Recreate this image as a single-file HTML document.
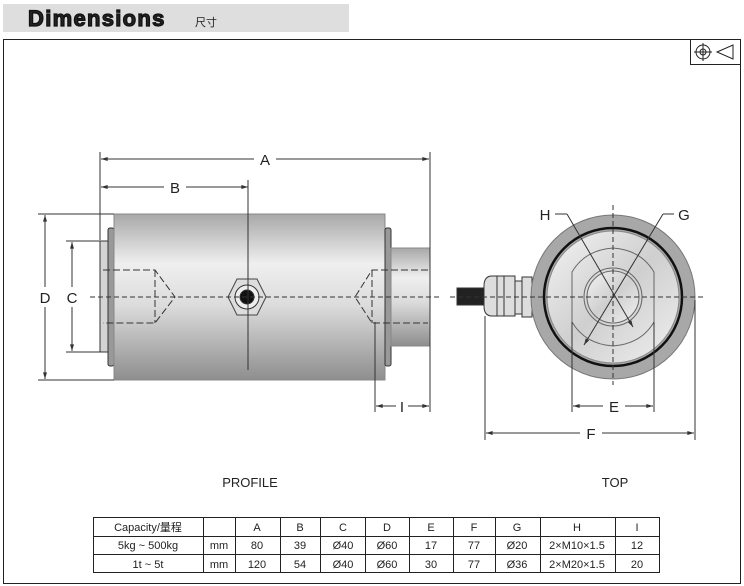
<!DOCTYPE html>
<html><head><meta charset="utf-8"><style>
html,body{margin:0;padding:0;background:#fff;}
svg{display:block;}
text{font-family:"Liberation Sans","Noto Sans CJK SC",sans-serif;fill:#222;}
</style></head><body>
<svg width="744" height="586" viewBox="0 0 744 586" xmlns="http://www.w3.org/2000/svg">
<defs>
<linearGradient id="bg" x1="0" y1="0" x2="0" y2="1">
<stop offset="0" stop-color="#a8a8a8"/><stop offset="0.3" stop-color="#efefef"/><stop offset="0.55" stop-color="#dcdcdc"/><stop offset="1" stop-color="#8e8e8e"/></linearGradient>
<linearGradient id="rg" x1="0" y1="0" x2="1" y2="1">
<stop offset="0" stop-color="#f4f4f4"/><stop offset="0.5" stop-color="#cfcfcf"/><stop offset="1" stop-color="#f0f0f0"/></linearGradient>
<marker id="ar" viewBox="0 0 10 6" refX="10" refY="3" markerWidth="8" markerHeight="4" orient="auto-start-reverse"><path d="M0,0L10,3L0,6z" fill="#333"/></marker>
</defs>
<rect x="3" y="4" width="346" height="28" fill="#dedede"/>
<text x="28" y="26" font-size="22" font-weight="900" fill="#111" stroke="#111" stroke-width="1.2" letter-spacing="1.3">Dimensions</text>
<text x="195" y="26" font-size="11">尺寸</text>
<rect x="3.5" y="39.5" width="737" height="544" fill="none" stroke="#222" stroke-width="1"/>
<rect x="690.5" y="39.5" width="50" height="25" fill="none" stroke="#222"/>
<circle cx="703" cy="52" r="7" fill="none" stroke="#222"/><circle cx="703" cy="52" r="3" fill="none" stroke="#222"/>
<line x1="694" y1="52" x2="712" y2="52" stroke="#222"/><line x1="703" y1="43" x2="703" y2="61" stroke="#222"/>
<path d="M717 52L733 45V59Z" fill="none" stroke="#222"/>

<g stroke="#333" fill="none" stroke-width="1">
<rect x="100" y="241" width="8" height="111" fill="#d4d4d4"/>
<rect x="108" y="228" width="6" height="138" rx="2" fill="#999"/>
<rect x="114" y="214" width="271" height="166" fill="url(#bg)" stroke="#888"/>
<rect x="385" y="228" width="6" height="138" rx="2" fill="#999"/>
<rect x="391" y="248" width="39" height="98" fill="url(#bg)" stroke="#888"/>
<path d="M103 270H155L175 297L155 323H103M155 270V323" stroke-dasharray="7,3"/>
<path d="M428 270H372L355 297L372 323H428M372 270V323" stroke-dasharray="7,3"/>
<polygon points="228,297 237,279 257,279 266,297 257,315 237,315" fill="#ddd" stroke="#444"/>
<circle cx="247" cy="297" r="12" fill="#eee"/><circle cx="247" cy="297" r="7" fill="#111"/>
<line x1="90" y1="297" x2="442" y2="297" stroke-dasharray="5,3"/>
<line x1="100" y1="152" x2="100" y2="240"/><line x1="430" y1="152" x2="430" y2="412"/>
<line x1="101" y1="159" x2="254" y2="159" marker-start="url(#ar)"/><line x1="276" y1="159" x2="429" y2="159" marker-end="url(#ar)"/>
<line x1="101" y1="187" x2="164" y2="187" marker-start="url(#ar)"/><line x1="186" y1="187" x2="248" y2="187" marker-end="url(#ar)"/>
<line x1="248" y1="180" x2="248" y2="370"/>
<line x1="38" y1="214" x2="114" y2="214"/><line x1="38" y1="380" x2="114" y2="380"/>
<line x1="45" y1="215" x2="45" y2="287" marker-start="url(#ar)"/><line x1="45" y1="307" x2="45" y2="379" marker-end="url(#ar)"/>
<line x1="66" y1="241" x2="100" y2="241"/><line x1="66" y1="352" x2="100" y2="352"/>
<line x1="72" y1="242" x2="72" y2="287" marker-start="url(#ar)"/><line x1="72" y1="307" x2="72" y2="351" marker-end="url(#ar)"/>
<line x1="375" y1="322" x2="375" y2="412"/>
<line x1="376" y1="406" x2="396" y2="406" marker-start="url(#ar)"/><line x1="408" y1="406" x2="429" y2="406" marker-end="url(#ar)"/>
<rect x="457" y="288" width="28" height="17" fill="#222"/>
<path d="M505 276H492Q484 276 484 286V306Q484 316 492 316H505Z" fill="#ddd"/>
<rect x="497" y="276" width="18" height="40" fill="#ddd"/><line x1="504" y1="276" x2="504" y2="316"/>
<rect x="515" y="281" width="7" height="33" fill="#ddd"/>
<rect x="522" y="277" width="10" height="40" fill="#ddd"/>
<circle cx="613" cy="297" r="82" fill="#a8a8a8" stroke="#777"/>
<circle cx="613" cy="297" r="69" fill="none" stroke="#111" stroke-width="2.5"/>
<circle cx="613" cy="297" r="66" fill="url(#rg)" stroke="#888"/>
<path d="M572 272Q585 250 613 248Q641 250 654 272V322Q641 344 613 346Q585 344 572 322Z" fill="none" stroke="#666"/>
<circle cx="613" cy="297" r="29" fill="none" stroke="#666"/>
<circle cx="613" cy="297" r="26" fill="url(#rg)" stroke="#666"/>
<line x1="450" y1="297" x2="705" y2="297" stroke-dasharray="5,3"/>
<line x1="613" y1="205" x2="613" y2="385" stroke-dasharray="5,3"/>
<line x1="555" y1="214" x2="567" y2="214"/><line x1="567" y1="214" x2="633" y2="327" marker-end="url(#ar)"/>
<line x1="663" y1="214" x2="674" y2="214"/><line x1="663" y1="214" x2="584" y2="345" marker-end="url(#ar)"/>
<line x1="572" y1="322" x2="572" y2="412"/><line x1="654" y1="322" x2="654" y2="412"/>
<line x1="573" y1="406" x2="603" y2="406" marker-start="url(#ar)"/><line x1="625" y1="406" x2="653" y2="406" marker-end="url(#ar)"/>
<line x1="485" y1="316" x2="485" y2="440"/><line x1="695" y1="300" x2="695" y2="440"/>
<line x1="486" y1="433" x2="580" y2="433" marker-start="url(#ar)"/><line x1="602" y1="433" x2="694" y2="433" marker-end="url(#ar)"/>
</g>
<g font-size="15">
<text x="265" y="165" text-anchor="middle">A</text>
<text x="175" y="193" text-anchor="middle">B</text>
<text x="45" y="303" text-anchor="middle">D</text>
<text x="72" y="303" text-anchor="middle">C</text>
<text x="402" y="412" text-anchor="middle">I</text>
<text x="545" y="220" text-anchor="middle">H</text>
<text x="684" y="220" text-anchor="middle">G</text>
<text x="614" y="412" text-anchor="middle">E</text>
<text x="591" y="439" text-anchor="middle">F</text>
</g>
<text x="250" y="487" font-size="13" text-anchor="middle">PROFILE</text>
<text x="615" y="487" font-size="13" text-anchor="middle">TOP</text>
<g stroke="#222" stroke-width="1">
<rect x="93.5" y="517.5" width="566" height="55" fill="none"/>
<line x1="93" y1="536.5" x2="660" y2="536.5"/><line x1="93" y1="554.5" x2="660" y2="554.5"/>
<line x1="203.5" y1="517" x2="203.5" y2="573"/><line x1="235.5" y1="517" x2="235.5" y2="573"/>
<line x1="280.5" y1="517" x2="280.5" y2="573"/><line x1="320.5" y1="517" x2="320.5" y2="573"/>
<line x1="365.5" y1="517" x2="365.5" y2="573"/><line x1="409.5" y1="517" x2="409.5" y2="573"/>
<line x1="453.5" y1="517" x2="453.5" y2="573"/><line x1="495.5" y1="517" x2="495.5" y2="573"/>
<line x1="540.5" y1="517" x2="540.5" y2="573"/><line x1="615.5" y1="517" x2="615.5" y2="573"/>
</g>
<g font-size="11" text-anchor="middle">
<text x="148" y="531">Capacity/量程</text><text x="257" y="531">A</text><text x="300" y="531">B</text><text x="343" y="531">C</text><text x="387" y="531">D</text><text x="431" y="531">E</text><text x="474" y="531">F</text><text x="517" y="531">G</text><text x="577" y="531">H</text><text x="637" y="531">I</text>
<text x="148" y="549">5kg ~ 500kg</text><text x="219" y="549">mm</text><text x="257" y="549">80</text><text x="300" y="549">39</text><text x="343" y="549">Ø40</text><text x="387" y="549">Ø60</text><text x="431" y="549">17</text><text x="474" y="549">77</text><text x="517" y="549">Ø20</text><text x="577" y="549">2×M10×1.5</text><text x="637" y="549">12</text>
<text x="148" y="568">1t ~ 5t</text><text x="219" y="568">mm</text><text x="257" y="568">120</text><text x="300" y="568">54</text><text x="343" y="568">Ø40</text><text x="387" y="568">Ø60</text><text x="431" y="568">30</text><text x="474" y="568">77</text><text x="517" y="568">Ø36</text><text x="577" y="568">2×M20×1.5</text><text x="637" y="568">20</text>
</g>
</svg>
</body></html>
